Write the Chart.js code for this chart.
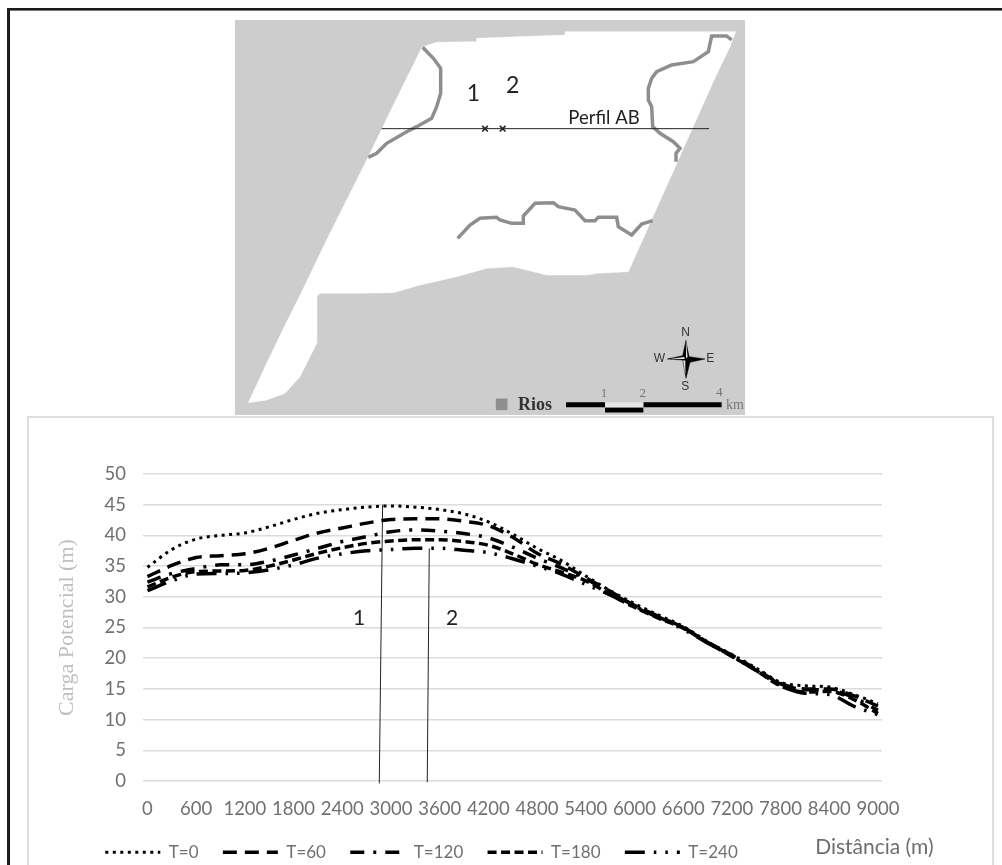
<!DOCTYPE html>
<html><head><meta charset="utf-8">
<script src="https://cdn.jsdelivr.net/npm/chart.js"></script>
<style>
html,body{margin:0;padding:0;background:#fff;width:1002px;height:865px;overflow:hidden}
.abs{position:absolute;box-sizing:border-box}
#frameTop{left:7px;top:8px;width:995px;height:3px;background:#1c1c1c;border-bottom:1px solid #777}
#frameLeft{left:7px;top:8px;width:3px;height:857px;background:#1c1c1c}
#card{left:27px;top:416px;width:967px;height:449px;border:2px solid #dedede;border-bottom:0}
#mapC{left:235px;top:20px;background:#cdcdcd}
#lineC{left:29px;top:418px}
</style></head><body>
<div class="abs" id="frameTop"></div><div class="abs" id="frameLeft"></div><div class="abs" id="card"></div>
<canvas class="abs" id="mapC" width="510" height="395"></canvas>
<canvas class="abs" id="lineC" width="963" height="447"></canvas>
<script>
// ---- profile chart data ----
const distance = [0,300,600,900,1200,1500,1800,2100,2400,2700,3000,3300,3600,3900,4200,4500,4800,5100,5400,5700,6000,6300,6600,6900,7200,7500,7800,8100,8400,8700,9000];
const xTickValues = [0,600,1200,1800,2400,3000,3600,4200,4800,5400,6000,6600,7200,7800,8400,9000];
const T0   = [34.8,37.7,39.4,40,40.4,41.4,42.6,43.6,44.2,44.6,44.8,44.6,44.2,43.5,42.2,40.2,37.9,35.9,33.4,31,28.9,27,25.2,22.7,20.6,18.4,16.1,15.5,15.3,14.1,12.6];
const T60  = [33.3,35.1,36.4,36.7,37,37.9,39.2,40.4,41.2,42,42.6,42.7,42.7,42.3,41.6,39.7,37.1,35.3,33.1,30.9,28.6,26.8,25,22.6,20.5,18.2,15.9,15,15,13.9,12.2];
const T120 = [32.4,33.8,34.6,35.2,35.2,35.8,36.8,37.9,39,39.8,40.6,40.9,40.7,40.3,39.6,38.1,36.3,34.7,32.9,30.7,28.5,26.6,25,22.6,20.4,18.1,15.8,14.9,14.8,13.6,11.5];
const T180 = [31.6,33.2,34.1,34.2,34.3,35,36,37.1,38,38.7,39.1,39.3,39.3,39,38.4,37,35.3,34,32.6,30.4,28.3,26.5,24.9,22.5,20.3,18,15.5,14.5,14.6,13.3,11];
const T240 = [31,32.6,33.7,33.8,33.9,34.4,35.2,36.3,37,37.5,37.7,37.9,37.9,37.6,37.2,36.2,35,33.7,32,30.3,28.3,26.7,24.7,22.5,20.3,18,15.6,14.3,14.1,12.2,10.8];
const marker1 = [[2897,45],[2856,-0.4]];
const marker2 = [[3472,37.9],[3447,-0.2]];
const chartNotes = [
  {t:'1',x:2606,y:26.5,font:'21px Lato',color:'#222'},
  {t:'2',x:3753,y:26.5,font:'21px Lato',color:'#222'},
  {t:'Distância (m)',x:8956,y:-10.75,font:'21px Lato',color:'#6e6e6e'}
];
// ---- map data, in the map's own units ----
const mapOutline = [[575,112],[620,97],[740,95],[740,85],[1005,75],[1005,65],[1517,65],[1500,110],[1452,210],[1403,320],[1358,420],[1336,470],[1282,590],[1242,680],[1195,785],[1100,790],[1070,795],[950,795],[850,770],[770,775],[680,800],[570,825],[490,848],[365,850],[270,850],[260,860],[260,1000],[210,1100],[165,1150],[110,1170],[55,1178],[110,1060],[158,960],[218,840],[285,700],[350,570],[415,440],[483,300],[537,190]];
const riverWest = [[578,112],[610,145],[632,175],[632,250],[620,290],[605,325],[560,350],[530,365],[470,400],[440,430],[415,442]];
const riverEast = [[1505,90],[1490,78],[1445,78],[1435,125],[1390,155],[1325,165],[1280,185],[1265,205],[1255,235],[1255,270],[1265,290],[1268,350],[1290,370],[1330,395],[1350,415],[1338,430],[1338,455]];
const riverSouth = [[683,685],[720,645],[750,625],[800,622],[810,630],[845,640],[880,640],[880,618],[915,580],[970,578],[985,590],[1035,600],[1065,632],[1095,632],[1105,622],[1160,622],[1165,650],[1205,675],[1235,642],[1268,632]];
const profileLine = [[455,356],[1437,356]];
const wells = [[765,356],[818,356]];
const starDark = [[1368,990],[1358,1037],[1312,1047],[1358,1050],[1368,1105],[1380,1057],[1425,1047],[1378,1040]];
const starLightA = [[1368,1000],[1372,1040],[1368,1045]];
const starLightB = [[1325,1047],[1362,1042],[1362,1047]];
const starLightC = [[1366,1052],[1360,1052],[1366,1090]];
const barBlack1 = [[1008,1184],[1125,1184]];
const barBlack2 = [[1125,1200],[1240,1200]];
const barLight = [[1125,1184],[1240,1184]];
const barBlack3 = [[1240,1184],[1475,1184]];
const riverKey = [[815,1183]];
const mapNotes = [
  {t:'1',x:730,y:250,font:'23px Lato',color:'#222'},
  {t:'2',x:848,y:228,font:'23px Lato',color:'#222'},
  {t:'Perfil AB',x:1122,y:325,font:'18.5px Lato',color:'#222'},
  {t:'N',x:1367,y:967,font:'12px "Liberation Sans"',color:'#333'},
  {t:'S',x:1366,y:1130,font:'12px "Liberation Sans"',color:'#333'},
  {t:'W',x:1288,y:1047,font:'12px "Liberation Sans"',color:'#333'},
  {t:'E',x:1441,y:1047,font:'12px "Liberation Sans"',color:'#333'},
  {t:'Rios',x:915,y:1185,font:'bold 18px "Liberation Serif"',color:'#333'},
  {t:'1',x:1122,y:1150,font:'13px "Liberation Serif"',color:'#777'},
  {t:'2',x:1238,y:1152,font:'13px "Liberation Serif"',color:'#777'},
  {t:'4',x:1468,y:1147,font:'13px "Liberation Serif"',color:'#777'},
  {t:'km',x:1515,y:1187,font:'14px "Liberation Serif"',color:'#777'}
];

const notesPlugin = {
  id:'notes',
  afterDraw(chart,args,opts){
    const c=chart.ctx; c.save();
    c.textAlign='center'; c.textBaseline='middle';
    for(const n of opts.items){
      c.font=n.font; c.fillStyle=n.color;
      c.fillText(n.t,chart.scales.x.getPixelForValue(n.x),chart.scales.y.getPixelForValue(n.y));
    }
    c.restore();
  }
};
const legendPlacer = {
  id:'legendPlacer',
  afterLayout(chart){ chart.legend.left=52; chart.legend.top=401.5; chart.scales.x.bottom=chart.height; }
};
const pts = (xs,ys)=>xs.map((x,i)=>({x,y:ys[i]}));
const xy = a=>a.map(p=>({x:p[0],y:p[1]}));
const seriesStyle=(label,data,width,dash)=>({label,data:pts(distance,data),borderColor:'#000',backgroundColor:'#000',borderWidth:width,borderDash:dash,pointRadius:0,showLine:true,cubicInterpolationMode:'monotone',clip:false});
const markerStyle=(data)=>({label:'',data:xy(data),borderColor:'#222',borderWidth:1,pointRadius:0,showLine:true,clip:false,tension:0});

new Chart(document.getElementById('lineC'),{
  type:'scatter',
  data:{datasets:[
    seriesStyle('T=0',T0,3,[3,4.5]),
    seriesStyle('T=60',T60,3.5,[14,8]),
    seriesStyle('T=120',T120,3.5,[14,9,3,9]),
    seriesStyle('T=180',T180,3.5,[9,4.5]),
    seriesStyle('T=240',T240,3.5,[20,9,2.5,9,2.5,9]),
    markerStyle(marker1),markerStyle(marker2)
  ]},
  plugins:[notesPlugin,legendPlacer],
  options:{
    responsive:false,animation:false,
    layout:{autoPadding:false,padding:{left:0,top:56,right:110,bottom:0}},
    scales:{
      x:{type:'linear',min:-55,max:9050,
        grid:{display:false},border:{display:false},
        afterBuildTicks(s){s.ticks=xTickValues.map(value=>({value}));},
        afterFit(s){s.height=84-s.chart.legend.height;},
        ticks:{autoSkip:false,maxRotation:0,minRotation:0,padding:9,color:'#707070',font:{family:'Lato',size:18.5},callback:v=>String(v)}},
      y:{type:'linear',min:0,max:50,
        grid:{color:'#dcdcdc',lineWidth:1.5,drawTicks:false},border:{display:false},
        afterFit(s){s.width=114;},
        ticks:{stepSize:5,padding:17,color:'#707070',font:{family:'Lato',size:18.5}},
        title:{display:true,text:'Carga Potencial (m)',color:'#bfbfbf',font:{family:'Liberation Serif',size:22},padding:{top:25,bottom:0}}}
    },
    plugins:{
      tooltip:{enabled:false},
      notes:{items:chartNotes},
      legend:{position:'bottom',align:'start',
        labels:{usePointStyle:true,pointStyleWidth:55,boxHeight:17,padding:24.3,color:'#707070',font:{family:'Lato',size:17},
          generateLabels:ch=>ch.data.datasets.filter(d=>d.label).map((d,i)=>({text:d.label,datasetIndex:i,fontColor:'#707070',strokeStyle:'#000',fillStyle:'#000',lineWidth:d.borderWidth,lineDash:d.borderDash,pointStyle:'line',hidden:false}))}}
    }
  }
});

const fillShape=(data,color)=>({data:xy(data),showLine:true,fill:'shape',backgroundColor:color,borderColor:color,borderWidth:0.5,pointRadius:0,tension:0});
const stroke=(data,color,w)=>({data:xy(data),showLine:true,fill:false,borderColor:color,borderWidth:w,pointRadius:0,tension:0});
// Chart.js paints the first dataset last, so the top layers come first.
new Chart(document.getElementById('mapC'),{
  type:'scatter',
  data:{datasets:[
    {data:xy(riverKey),pointStyle:'rect',pointRadius:8.2,pointBackgroundColor:'#8e8e8e',pointBorderWidth:0,showLine:false},
    stroke(barBlack1,'#000',5),stroke(barLight,'#e6e6e6',5),stroke(barBlack2,'#000',5),stroke(barBlack3,'#000',5),
    fillShape(starLightA,'#e4e4e4'),fillShape(starLightB,'#e4e4e4'),fillShape(starLightC,'#e4e4e4'),fillShape(starDark,'#000000'),
    {data:xy(wells),pointStyle:'crossRot',pointRadius:4,pointBorderWidth:1.6,pointBorderColor:'#1c2a1c',showLine:false},
    stroke(profileLine,'#222',1),
    stroke(riverWest,'#8e8e8e',3.5),stroke(riverEast,'#8e8e8e',3.5),stroke(riverSouth,'#8e8e8e',3.5),
    fillShape(mapOutline,'#ffffff')
  ]},
  plugins:[notesPlugin],
  options:{
    responsive:false,animation:false,
    layout:{autoPadding:false,padding:0},
    scales:{
      x:{type:'linear',display:false,min:15,max:1545},
      y:{type:'linear',display:false,min:30,max:1215,reverse:true}
    },
    plugins:{legend:{display:false},tooltip:{enabled:false},notes:{items:mapNotes}}
  }
});
</script>
</body></html>
